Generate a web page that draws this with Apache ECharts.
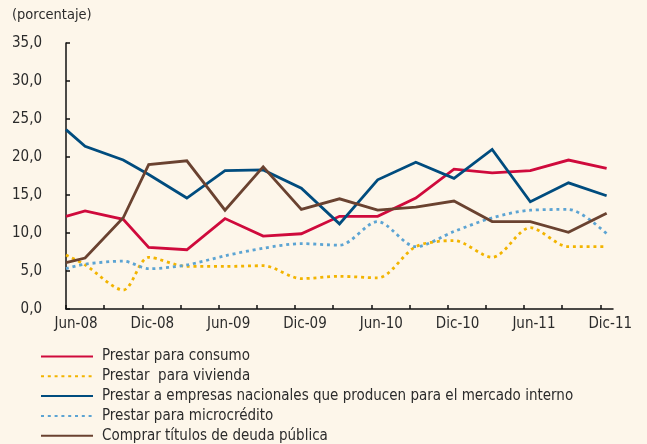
<!DOCTYPE html>
<html>
<head>
<meta charset="utf-8">
<script src="https://cdn.jsdelivr.net/npm/echarts@6/dist/echarts.min.js"></script>
<style>
html,body{margin:0;padding:0;background:#FDF6EA;}
#c{width:647px;height:444px;}
</style>
</head>
<body>
<div id="c"></div>
<script>
// Months elapsed since Jun-08 for each observation
var months = [0, 1.5, 4.5, 6.5, 9.5, 12.5, 15.5, 18.5, 21.5, 24.5, 27.5, 30.5, 33.5, 36.5, 39.5, 42.5];
var tickLabels = {0:'Jun-08', 6:'Dic-08', 12:'Jun-09', 18:'Dic-09', 24:'Jun-10', 30:'Dic-10', 36:'Jun-11', 42:'Dic-11'};

var consumo     = [12.2, 12.9, 11.8, 8.1, 7.8, 11.9, 9.6, 9.9, 12.2, 12.2, 14.6, 18.4, 17.9, 18.2, 19.6, 18.5];
var vivienda    = [7.1, 5.8, 2.5, 6.8, 5.6, 5.6, 5.7, 4.0, 4.3, 4.1, 8.2, 9.0, 6.8, 10.7, 8.2, 8.2];
var empresas    = [23.6, 21.4, 19.6, 17.7, 14.6, 18.2, 18.3, 15.9, 11.2, 17.0, 19.3, 17.2, 21.0, 14.1, 16.6, 14.9];
var microcred   = [5.3, 5.9, 6.3, 5.3, 5.8, 7.0, 8.0, 8.6, 8.4, 11.5, 8.2, 10.2, 12.0, 13.0, 13.1, 9.9];
var deuda       = [6.1, 6.7, 12.0, 19.0, 19.5, 13.0, 18.7, 13.1, 14.5, 13.0, 13.4, 14.2, 11.5, 11.5, 10.1, 12.6];

var names = [
  'Prestar para consumo',
  'Prestar  para vivienda',
  'Prestar a empresas nacionales que producen para el mercado interno',
  'Prestar para microcrédito',
  'Comprar títulos de deuda pública'
];

function pairs(vals){ return vals.map(function(v,i){ return [months[i], v]; }); }

var FONT = '"Liberation Sans Narrow", "DejaVu Sans Condensed", "Noto Sans", sans-serif';
var TXT = '#2b2b2b';

function mk(name, vals, color, dotted){
  return {
    name: name, type: 'line', data: pairs(vals),
    symbol: 'none', showSymbol: false,
    smooth: dotted ? 0.3 : false,
    lineStyle: { color: color, width: 2.8, type: dotted ? [3, 3.8] : 'solid', cap: 'butt', join: 'miter' },
    itemStyle: { color: color },
    emphasis: { disabled: true }
  };
}

var chart = echarts.init(document.getElementById('c'));
var tickVals = [0,3,6,9,12,15,18,21,24,27,30,33,36,39,42];
chart.setOption({
  backgroundColor: '#FDF6EA',
  animation: false,
  textStyle: { fontFamily: FONT },
  title: {
    text: '(porcentaje)', left: 7, top: 3,
    textStyle: { fontFamily: FONT, fontSize: 14.5, fontWeight: 'normal', color: TXT }
  },
  grid: { left: 66, right: 34, top: 43, bottom: 135, containLabel: false },
  xAxis: {
    type: 'value', min: 0, max: 43,
    axisLine: { show: true, lineStyle: { color: '#111', width: 1.5 } },
    axisTick: { show: true, inside: true, length: 4, lineStyle: { color: '#111', width: 1.5 }, customValues: tickVals },
    axisLabel: {
      customValues: [0,6,12,18,24,30,36,42],
      formatter: function(v){ return tickLabels[v] || ''; },
      fontFamily: FONT, fontSize: 15, color: TXT, margin: 8, padding: [0,0,0,20]
    },
    splitLine: { show: false }
  },
  yAxis: {
    type: 'value', min: 0, max: 35, interval: 5,
    axisLine: { show: true, lineStyle: { color: '#111', width: 1.5 } },
    axisTick: { show: true, inside: true, length: 4, lineStyle: { color: '#111', width: 1.5 } },
    axisLabel: {
      formatter: function(v){ return v.toFixed(1).replace('.', ','); },
      fontFamily: FONT, fontSize: 15, color: TXT, margin: 24
    },
    splitLine: { show: false }
  },
  legend: {
    orient: 'vertical', left: 40, top: 349, height: 140,
    padding: 0,
    icon: 'inherit',
    itemWidth: 52, itemHeight: 14, itemGap: 4.8,
    itemStyle: { opacity: 0 },
    selectedMode: false,
    textStyle: { fontFamily: FONT, fontSize: 15, color: TXT, lineHeight: 14, padding: [0,0,0,4] },
    data: names
  },
  series: [
    mk(names[0], consumo,   '#CF0A3C', false),
    mk(names[1], vivienda,  '#F2B400', true),
    mk(names[2], empresas,  '#004C7E', false),
    mk(names[3], microcred, '#5CA4D3', true),
    mk(names[4], deuda,     '#6A4230', false)
  ]
});
</script>
</body>
</html>
